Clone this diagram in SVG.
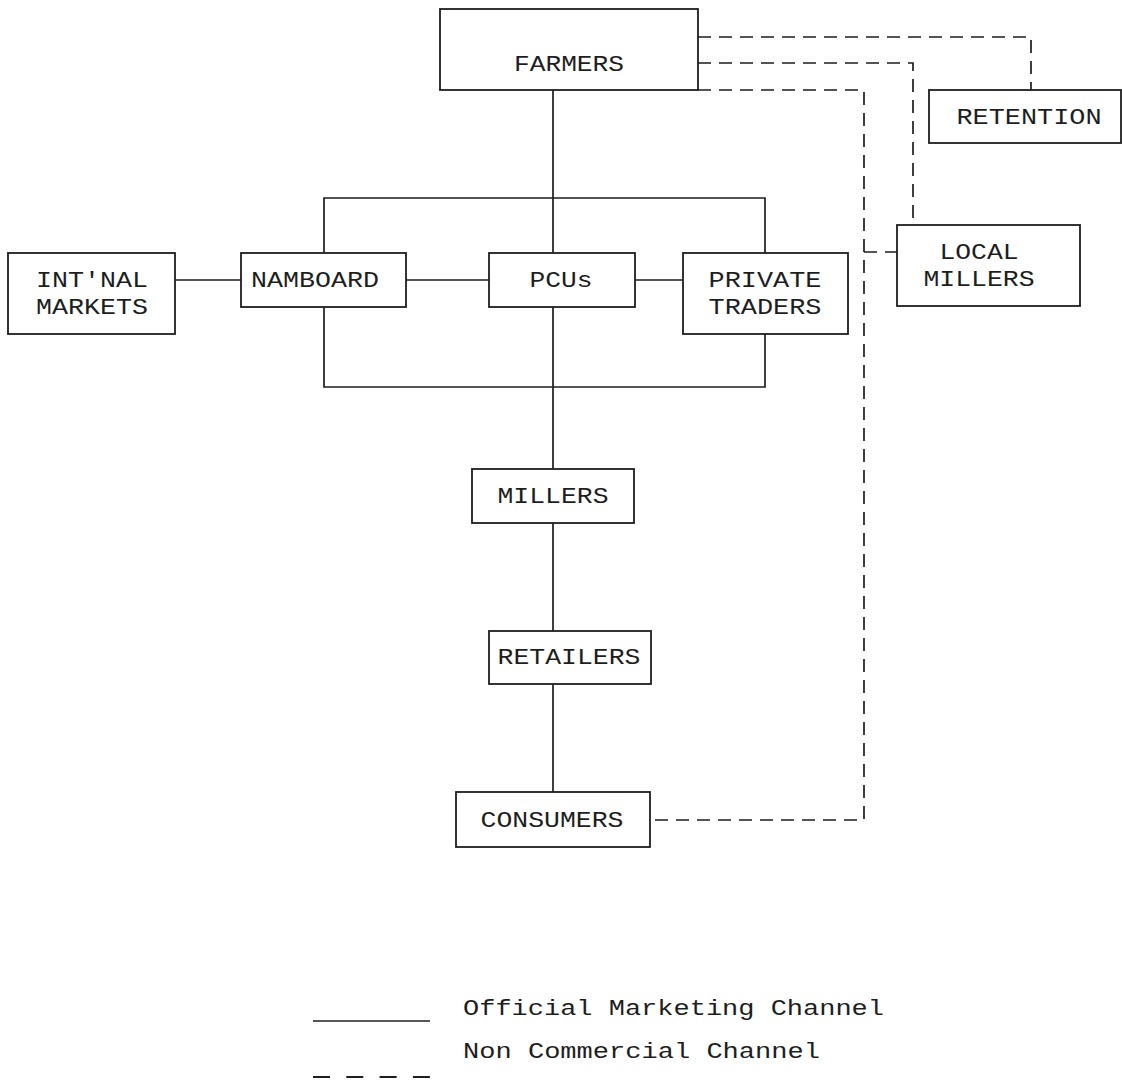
<svg xmlns="http://www.w3.org/2000/svg" width="1122" height="1080" viewBox="0 0 1122 1080">
<style>
.box{fill:#fff;stroke:#1e1e1e;stroke-width:1.8}
.t{font-family:"Liberation Mono","Courier New",monospace;font-size:22.5px;fill:#1e1e1e;text-anchor:middle}
.lt{font-family:"Liberation Mono","Courier New",monospace;font-size:22.5px;fill:#1e1e1e}
.s{fill:none;stroke:#1e1e1e;stroke-width:1.7}
.d{fill:none;stroke:#1e1e1e;stroke-width:1.7;stroke-dasharray:13 8}
</style>
<rect width="1122" height="1080" fill="#fff"/>
<g id="connectors">
<path class="s" d="M553,90 V253 M553,307 V469 M553,523 V631 M553,684 V792"/>
<path class="s" d="M324,253 V198 H765 V253 M324,307 V387 H765 V334"/>
<path class="s" d="M175,280 H241 M406,280 H489 M635,280 H683"/>
<path class="d" d="M698,37 H1031 V90"/>
<path class="d" d="M698,63 H913 V225"/>
<path class="d" d="M698,90 H864 V820 H650"/>
<path class="d" d="M864,252 H897"/>
</g>
<g id="farmers"><rect class="box" x="440" y="9" width="258" height="81"/><text class="t" x="569" y="71" textLength="110" lengthAdjust="spacingAndGlyphs">FARMERS</text></g>
<g id="retention"><rect class="box" x="929" y="90" width="192" height="53"/><text class="t" x="1029" y="124" textLength="145" lengthAdjust="spacingAndGlyphs">RETENTION</text></g>
<g id="local-millers"><rect class="box" x="897" y="225" width="183" height="81"/><text class="t" x="979" y="259" textLength="79" lengthAdjust="spacingAndGlyphs">LOCAL</text><text class="t" x="979" y="286" textLength="111" lengthAdjust="spacingAndGlyphs">MILLERS</text></g>
<g id="intnal-markets"><rect class="box" x="8" y="253" width="167" height="81"/><text class="t" x="92" y="287" textLength="112" lengthAdjust="spacingAndGlyphs">INT'NAL</text><text class="t" x="92" y="314" textLength="112" lengthAdjust="spacingAndGlyphs">MARKETS</text></g>
<g id="namboard"><rect class="box" x="241" y="253" width="165" height="54"/><text class="t" x="315" y="287" textLength="128" lengthAdjust="spacingAndGlyphs">NAMBOARD</text></g>
<g id="pcus"><rect class="box" x="489" y="253" width="146" height="54"/><text class="t" x="561" y="287" textLength="63" lengthAdjust="spacingAndGlyphs">PCUs</text></g>
<g id="private-traders"><rect class="box" x="683" y="253" width="165" height="81"/><text class="t" x="765" y="287" textLength="113" lengthAdjust="spacingAndGlyphs">PRIVATE</text><text class="t" x="765" y="314" textLength="113" lengthAdjust="spacingAndGlyphs">TRADERS</text></g>
<g id="millers"><rect class="box" x="472" y="469" width="162" height="54"/><text class="t" x="553" y="503" textLength="111" lengthAdjust="spacingAndGlyphs">MILLERS</text></g>
<g id="retailers"><rect class="box" x="489" y="631" width="162" height="53"/><text class="t" x="569" y="664" textLength="143" lengthAdjust="spacingAndGlyphs">RETAILERS</text></g>
<g id="consumers"><rect class="box" x="456" y="792" width="194" height="55"/><text class="t" x="552" y="827" textLength="143" lengthAdjust="spacingAndGlyphs">CONSUMERS</text></g>
<g id="legend">
<path class="s" d="M313,1021 H430"/>
<path fill="none" stroke="#1e1e1e" stroke-width="2.2" stroke-dasharray="17 16.3" d="M313,1077 H430"/>
<text class="lt" x="463" y="1015" textLength="421" lengthAdjust="spacingAndGlyphs">Official Marketing Channel</text>
<text class="lt" x="463" y="1058" textLength="357" lengthAdjust="spacingAndGlyphs">Non Commercial Channel</text>
</g>
</svg>
